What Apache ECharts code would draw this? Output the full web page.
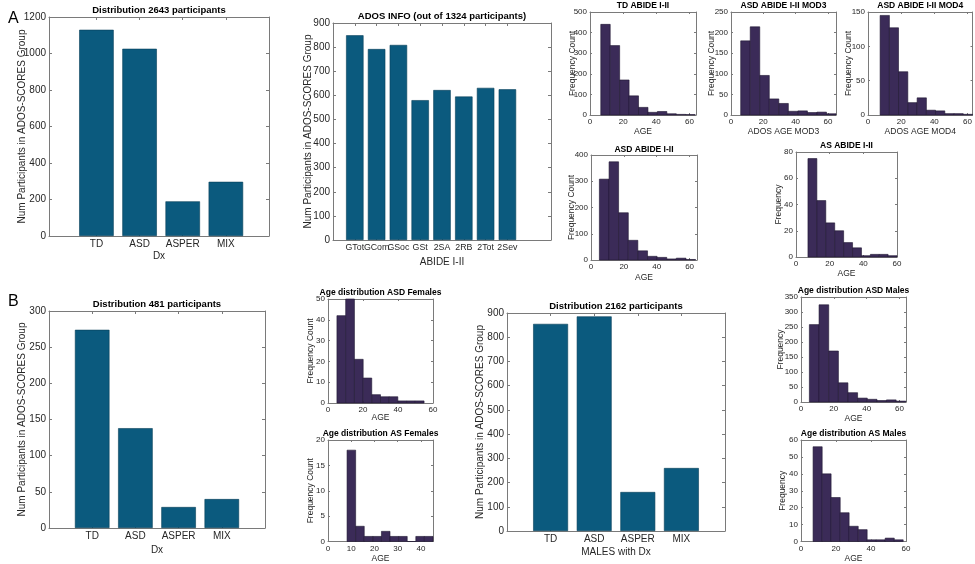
<!DOCTYPE html>
<html><head><meta charset="utf-8">
<script src="https://cdn.jsdelivr.net/npm/echarts@6/dist/echarts.min.js"></script>
<style>html,body{margin:0;padding:0;background:#fff}#c{width:975px;height:564px}</style>
</head><body><div id="c"></div>
<script>
// ---------- data ----------
const dxCategories = ['TD', 'ASD', 'ASPER', 'MIX'];
const dist2643 = [1130, 1026, 190, 297];
const adosCategories = ['GTot', 'GCom', 'GSoc', 'GSt', '2SA', '2RB', '2Tot', '2Sev'];
const adosInfo = [849, 792, 809, 580, 622, 595, 631, 625];
const dist481 = [274, 138, 29, 40];
const dist2162 = [855, 886, 161, 260];

const tdAbideEdges = [6.5, 12.2, 17.9, 23.6, 29.3, 35.0, 40.7, 46.4, 52.1, 57.8, 63.5];
const tdAbideCounts = [440, 337, 170, 93, 37, 13, 17, 6, 3, 2];
const mod3Edges = [6.0, 11.9, 17.8, 23.7, 29.6, 35.5, 41.4, 47.3, 53.2, 59.1, 65.0];
const mod3Counts = [180, 214, 96, 39, 28, 9, 10, 6, 7, 3];
const mod4Edges = [7.3, 12.9, 18.4, 24.0, 29.6, 35.2, 40.7, 46.3, 51.9, 57.4, 63.0];
const mod4Counts = [145, 127, 63, 18, 25, 7, 6, 2, 2, 1];
const asdAbideEdges = [5.1, 11.0, 16.8, 22.7, 28.5, 34.4, 40.2, 46.1, 51.9, 57.8, 63.6];
const asdAbideCounts = [308, 374, 180, 75, 35, 14, 10, 4, 7, 2];
const asAbideEdges = [7.1, 12.4, 17.7, 23.0, 28.3, 33.6, 38.9, 44.2, 49.5, 54.7, 60.0];
const asAbideCounts = [75, 43, 26, 20, 11, 7, 1, 2, 2, 1];
const asdFemEdges = [5.1, 10.1, 15.1, 20.1, 25.0, 30.0, 35.0, 39.9, 44.9, 49.9, 54.9];
const asdFemCounts = [42, 50, 21, 12, 4, 3, 3, 1, 1, 1];
const asFemEdges = [8.2, 11.9, 15.6, 19.3, 23.0, 26.7, 30.4, 34.1, 37.8, 41.5, 45.2];
const asFemCounts = [18, 3, 1, 1, 2, 1, 1, 0, 1, 1];
const asdMaleEdges = [5.1, 11.0, 16.9, 22.8, 28.6, 34.5, 40.4, 46.3, 52.1, 58.0, 63.9];
const asdMaleCounts = [258, 324, 170, 64, 31, 13, 9, 5, 7, 3];
const asMaleEdges = [6.9, 12.1, 17.2, 22.4, 27.5, 32.7, 37.8, 43.0, 48.1, 53.3, 58.4];
const asMaleCounts = [56, 40, 26, 17, 9, 7, 1, 1, 2, 1];

const dxTicks = [1, 2, 3, 4];
const adosTicks = [1, 2, 3, 4, 5, 6, 7, 8];
const ageTicks = [0, 20, 40, 60];
const ageTicksAsFem = [0, 10, 20, 30, 40];

// ---------- style ----------
const FONT_H = "'Liberation Sans Narrow', 'Liberation Sans', Arial, sans-serif";
const FONT_V = "'Liberation Sans', Arial, sans-serif";
const BAR = '#0b5a7e';
const BAR_EDGE = '#083f59';
const HIST = '#3b2b58';
const HIST_EDGE = '#1f1630';
const AXIS = '#7a7a7a';
const TXT = '#262626';

const grids = [], xAxes = [], yAxes = [], series = [];

function panel(p) {
  const gi = grids.length;
  grids.push({ left: p.left, top: p.top, width: p.width, height: p.height });
  const big = p.big;
  const fs = big ? 10 : 8;
  const nfs = big ? 10 : 8.5;
  const tfs = big ? 9.5 : 8.5;
  const tl = big ? 3 : 2;
  const line = { show: true, onZero: false, lineStyle: { color: AXIS, width: 1 } };
  const xi = xAxes.length, yi = yAxes.length;
  const xfmt = p.cats ? (v => p.cats[Math.round(v) - 1] || '') : (v => '' + v);
  xAxes.push({
    type: 'value', gridIndex: gi, position: 'bottom', min: p.xmin, max: p.xmax,
    axisLine: line, splitLine: { show: false },
    axisTick: { show: true, inside: true, length: tl, customValues: p.xticks, lineStyle: { color: AXIS } },
    axisLabel: { customValues: p.xticks, formatter: xfmt, fontSize: p.xfs || fs, color: TXT, fontFamily: FONT_H,
      margin: 3, hideOverlap: false, showMinLabel: true, showMaxLabel: true },
    name: p.xname, nameLocation: 'middle', nameGap: p.xgap, nameMoveOverlap: false,
    nameTextStyle: { fontSize: nfs, color: TXT, fontFamily: FONT_H }
  });
  xAxes.push({
    type: 'value', gridIndex: gi, position: 'top', min: p.xmin, max: p.xmax,
    axisLine: line, splitLine: { show: false },
    axisTick: { show: true, inside: true, length: tl, customValues: p.xticks, lineStyle: { color: AXIS } },
    axisLabel: { show: false },
    name: p.title, nameLocation: 'middle', nameGap: p.tgap, nameMoveOverlap: false,
    nameTextStyle: { fontSize: tfs, fontWeight: 'bold', color: '#000', fontFamily: FONT_H }
  });
  yAxes.push({
    type: 'value', gridIndex: gi, position: 'left', min: 0, max: p.ymax, interval: p.yint,
    axisLine: line, splitLine: { show: false },
    axisTick: { show: true, inside: true, length: tl, lineStyle: { color: AXIS } },
    axisLabel: { formatter: v => '' + v, fontSize: fs, color: TXT, fontFamily: FONT_H, margin: 3, hideOverlap: false },
    name: p.yname, nameLocation: 'middle', nameGap: p.ygap, nameRotate: 90, nameMoveOverlap: false,
    nameTextStyle: { fontSize: nfs, color: TXT, fontFamily: FONT_V }
  });
  yAxes.push({
    type: 'value', gridIndex: gi, position: 'right', min: 0, max: p.ymax, interval: p.yint,
    axisLine: line, splitLine: { show: false },
    axisTick: { show: true, inside: true, length: tl, lineStyle: { color: AXIS } },
    axisLabel: { show: false }
  });
  if (p.values) {
    series.push({
      type: 'bar', xAxisIndex: xi, yAxisIndex: yi, barWidth: '80%',
      data: p.values.map((v, i) => [i + 1, v]),
      itemStyle: { color: BAR, borderColor: BAR_EDGE, borderWidth: 0.6 },
      silent: true, animation: false
    });
  } else {
    const data = p.counts.map((c, i) => [p.edges[i], p.edges[i + 1], c]);
    series.push({
      type: 'custom', xAxisIndex: xi, yAxisIndex: yi, data: data,
      encode: { x: [0, 1], y: 2 }, silent: true, animation: false,
      renderItem: (params, api) => {
        const a = api.coord([api.value(0), api.value(2)]);
        const b = api.coord([api.value(1), 0]);
        return {
          type: 'rect',
          shape: { x: a[0], y: a[1], width: b[0] - a[0], height: b[1] - a[1] },
          style: { fill: HIST, stroke: HIST_EDGE, lineWidth: 0.6 }
        };
      }
    });
  }
}

// ---------- panels ----------
const YN = 'Num Participants in ADOS-SCORES Group';
panel({ big: true, left: 49, top: 17, width: 220, height: 219, xmin: -0.1, xmax: 5, xticks: dxTicks, cats: dxCategories,
  ymax: 1200, yint: 200, values: dist2643, title: 'Distribution 2643 participants', xname: 'Dx', yname: YN,
  xgap: 15, ygap: 22, tgap: 1.5 });
panel({ big: true, left: 333, top: 23, width: 218, height: 217, xmin: 0, xmax: 10, xticks: adosTicks, cats: adosCategories,
  ymax: 900, yint: 100, values: adosInfo, title: 'ADOS INFO (out of 1324 participants)', xname: 'ABIDE I-II', yname: YN,
  xgap: 17, ygap: 20, tgap: 2, xfs: 8.8 });
panel({ left: 590, top: 10, width: 106, height: 105, xmin: 0, xmax: 64, xticks: ageTicks,
  ymax: 500, yint: 100, edges: tdAbideEdges, counts: tdAbideCounts, title: 'TD ABIDE I-II', xname: 'AGE', yname: 'Frequency Count',
  xgap: 12.5, ygap: 13, tgap: 2 });
panel({ left: 731, top: 10, width: 105, height: 105, xmin: 0, xmax: 65, xticks: ageTicks,
  ymax: 250, yint: 50, edges: mod3Edges, counts: mod3Counts, title: 'ASD ABIDE I-II MOD3', xname: 'ADOS AGE MOD3', yname: 'Frequency Count',
  xgap: 12.5, ygap: 15, tgap: 2 });
panel({ left: 868, top: 10, width: 106, height: 105, xmin: 0, xmax: 63, xticks: ageTicks,
  ymax: 150, yint: 50, edges: mod4Edges, counts: mod4Counts, title: 'ASD ABIDE I-II MOD4', xname: 'ADOS AGE MOD4', yname: 'Frequency Count',
  xgap: 12, ygap: 15, tgap: 2 });
panel({ left: 591, top: 155, width: 106, height: 105, xmin: 0, xmax: 64.5, xticks: ageTicks,
  ymax: 400, yint: 100, edges: asdAbideEdges, counts: asdAbideCounts, title: 'ASD ABIDE I-II', xname: 'AGE', yname: 'Frequency Count',
  xgap: 13, ygap: 15, tgap: 1 });
panel({ left: 796, top: 152, width: 101, height: 105, xmin: 0, xmax: 60, xticks: ageTicks,
  ymax: 80, yint: 20, edges: asAbideEdges, counts: asAbideCounts, title: 'AS ABIDE I-II', xname: 'AGE', yname: 'Frequency',
  xgap: 12.5, ygap: 12.5, tgap: 1.5 });
panel({ big: true, left: 49, top: 311, width: 216, height: 217, xmin: 0, xmax: 5, xticks: dxTicks, cats: dxCategories,
  ymax: 300, yint: 50, values: dist481, title: 'Distribution 481 participants', xname: 'Dx', yname: YN,
  xgap: 17, ygap: 22, tgap: 2 });
panel({ left: 328, top: 299, width: 105, height: 104, xmin: 0, xmax: 60, xticks: ageTicks,
  ymax: 50, yint: 10, edges: asdFemEdges, counts: asdFemCounts, title: 'Age distribution ASD Females', xname: 'AGE', yname: 'Frequency Count',
  xgap: 10.5, ygap: 12.5, tgap: 1.5 });
panel({ left: 328, top: 440, width: 105, height: 104, xmin: 0, xmax: 45.2, xticks: ageTicksAsFem,
  ymax: 20, yint: 5, edges: asFemEdges, counts: asFemCounts, title: 'Age distribution AS Females', xname: 'AGE', yname: 'Frequency Count',
  xgap: 12.5, ygap: 12.5, tgap: 1.5 });
panel({ big: true, left: 507, top: 313, width: 218, height: 218, xmin: 0, xmax: 5, xticks: dxTicks, cats: dxCategories,
  ymax: 900, yint: 100, values: dist2162, title: 'Distribution 2162 participants', xname: 'MALES with Dx', yname: YN,
  xgap: 16, ygap: 22, tgap: 2 });
panel({ left: 801, top: 297, width: 105, height: 105, xmin: 0, xmax: 64, xticks: ageTicks,
  ymax: 350, yint: 50, edges: asdMaleEdges, counts: asdMaleCounts, title: 'Age distribution ASD Males', xname: 'AGE', yname: 'Frequency',
  xgap: 12, ygap: 16, tgap: 1.5 });
panel({ left: 801, top: 440, width: 105, height: 104, xmin: 0, xmax: 60, xticks: ageTicks,
  ymax: 60, yint: 10, edges: asMaleEdges, counts: asMaleCounts, title: 'Age distribution AS Males', xname: 'AGE', yname: 'Frequency',
  xgap: 12.5, ygap: 13.5, tgap: 1.5 });

const chart = echarts.init(document.getElementById('c'), null, { renderer: 'canvas' });
chart.setOption({
  backgroundColor: '#fff',
  animation: false,
  title: [
    { text: 'A', left: 3, top: 6, textStyle: { fontSize: 16, fontWeight: 'normal', color: '#000', fontFamily: FONT_V } },
    { text: 'B', left: 3, top: 289, textStyle: { fontSize: 16, fontWeight: 'normal', color: '#000', fontFamily: FONT_V } }
  ],
  grid: grids, xAxis: xAxes, yAxis: yAxes, series: series
});
</script></body></html>
